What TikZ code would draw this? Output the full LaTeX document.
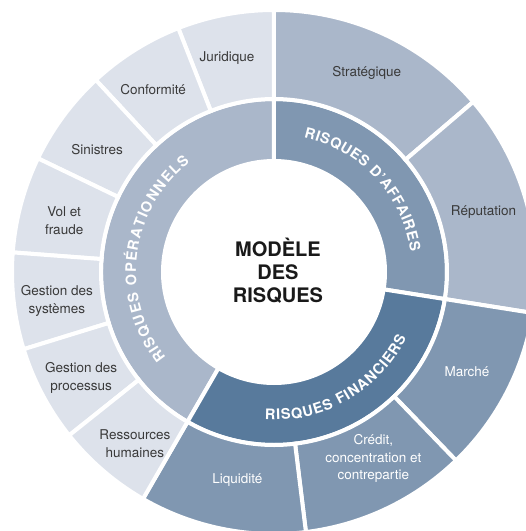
\documentclass[tikz,border=0pt]{standalone}
\usepackage{fontspec}
\setmainfont{TeX Gyre Heros}
\usetikzlibrary{decorations.text}

\definecolor{oplight}{HTML}{DDE2EB}
\definecolor{opring}{HTML}{AAB7CA}
\definecolor{affring}{HTML}{8097B1}
\definecolor{finring}{HTML}{587A9C}
\definecolor{lbltext}{HTML}{3A3A3A}

% one piece of a ring: colour, start angle, end angle, inner r, outer r
\newcommand\ringpart[5]{%
  \filldraw[fill=#1, draw=white, line width=4pt]
    (#2:#4) arc[start angle=#2, end angle=#3, radius=#4]
    -- (#3:#5) arc[start angle=#3, end angle=#2, radius=#5] -- cycle;}
\newcommand\ringfont{\bfseries\fontsize{14.5}{14.5}\selectfont}

\begin{document}
\begin{tikzpicture}[x=1pt, y=1pt,
  outlbl/.style={font=\fontsize{13.5}{17.5}\selectfont, text=lbltext, align=center, inner sep=0pt},
  finlbl/.style={outlbl, text=white},
  ringlbl/.style={decorate, decoration={text along path, text align={fit to path}, text color=white}}]

  \useasboundingbox (-274,-259) rectangle (252,272);
  \clip (-274,-259) rectangle (252,272);

  % middle ring
  \ringpart{affring}{-9}{90}{111}{173}
  \ringpart{opring}{90}{240}{111}{173}
  \ringpart{finring}{-120}{-9}{111}{173}

  % outer ring
  \ringpart{opring}{40.5}{90}{173}{262}
  \ringpart{opring}{-9}{40.5}{173}{262}
  \ringpart{affring}{-46}{-9}{173}{262}
  \ringpart{affring}{-83}{-46}{173}{262}
  \ringpart{affring}{-120}{-83}{173}{262}
  \ringpart{oplight}{90}{111.43}{173}{262}
  \ringpart{oplight}{111.43}{132.86}{173}{262}
  \ringpart{oplight}{132.86}{154.29}{173}{262}
  \ringpart{oplight}{154.29}{175.71}{173}{262}
  \ringpart{oplight}{175.71}{197.14}{173}{262}
  \ringpart{oplight}{197.14}{218.57}{173}{262}
  \ringpart{oplight}{218.57}{240}{173}{262}

  % centre
  \node (titre) [font=\bfseries\fontsize{20}{23}\selectfont, text=black!90, align=center] at (4,1) {MODÈLE\\DES\\RISQUES};

  % ring names
  \path[ringlbl, decoration={text={|\ringfont|RISQUES D'AFFAIRES}}]
    (77.5:138) arc[start angle=77.5, end angle=8.5, radius=138];
  \path[ringlbl, decoration={text={|\ringfont|RISQUES OPÉRATIONNELS}}]
    (218.5:138) arc[start angle=218.5, end angle=127.5, radius=138];
  \path[ringlbl, decoration={text={|\ringfont|RISQUES FINANCIERS}}]
    (-93.5:148) arc[start angle=-93.5, end angle=-26.5, radius=148];

  % outer labels
  \node (jur) [outlbl] at (102.4:219) {Juridique};
  \node (conf) [outlbl] at (123.5:219) {Conformité};
  \node (sin) [outlbl] at (145.4:215) {Sinistres};
  \node (vol) [outlbl] at (166.3:216) {Vol et\\fraude};
  \node (gsys) [outlbl] at (187.6:219) {Gestion des\\systèmes};
  \node (gproc) [outlbl] at (208.8:220) {Gestion des\\processus};
  \node (rh) [outlbl] at (231:221) {Ressources\\humaines};
  \node (strat) [outlbl] at (65:219.7) {Stratégique};
  \node (rep) [outlbl] at (16:218) {Réputation};
  \node (marche) [finlbl] at (-27.2:217) {Marché};
  \node (credit) [finlbl] at (-62:211.6) {Crédit,\\concentration et\\contrepartie};
  \node (liq) [finlbl] at (-100:211) {Liquidité};
\end{tikzpicture}
\end{document}
